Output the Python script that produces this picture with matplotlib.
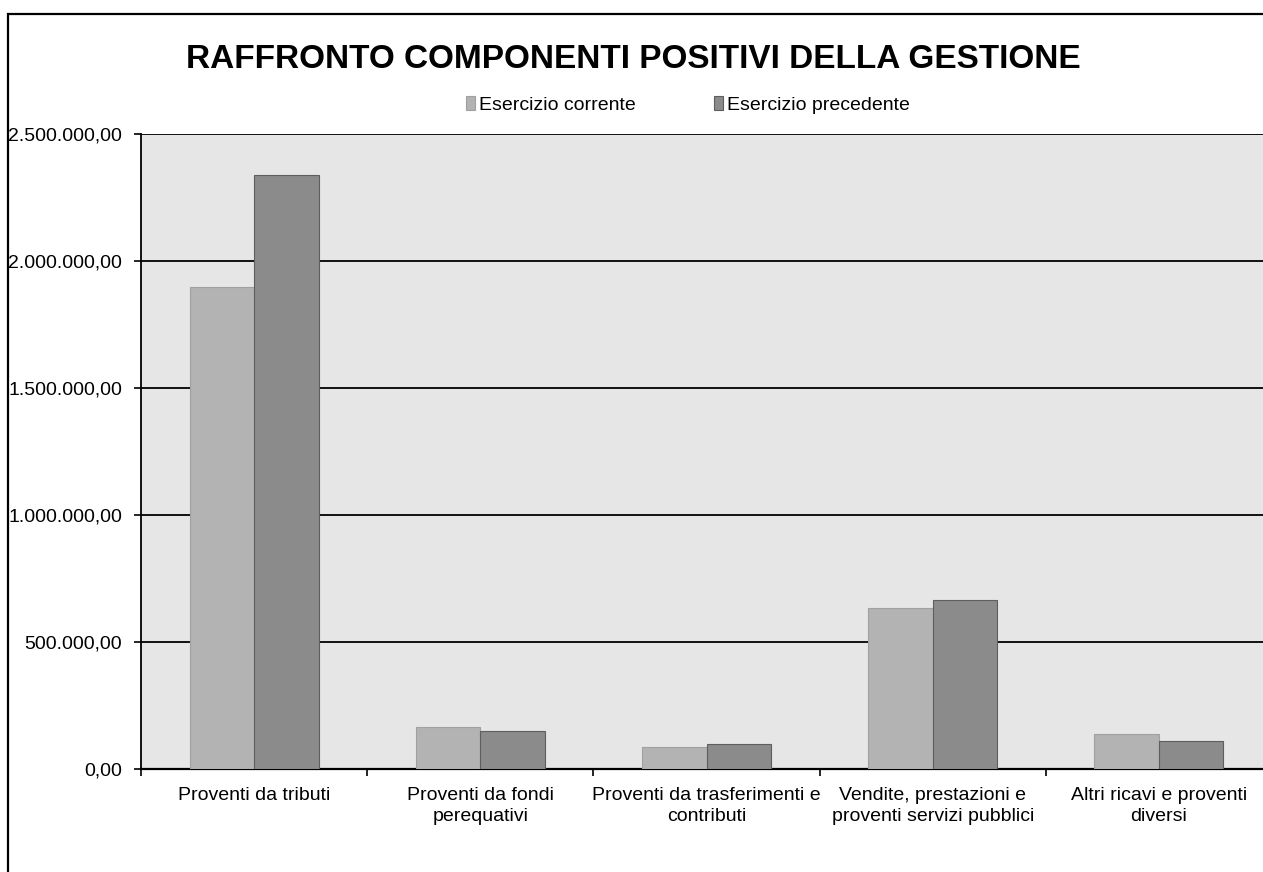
import numpy as np
import matplotlib.pyplot as plt
from matplotlib.patches import Rectangle

categorie = ['Proventi da tributi', 'Proventi da fondi\nperequativi',
             'Proventi da trasferimenti e\ncontributi',
             'Vendite, prestazioni e\nproventi servizi pubblici',
             'Altri ricavi e proventi\ndiversi']
corrente = [1897000, 165000, 88000, 634000, 138000]
precedente = [2339000, 150000, 99000, 665000, 110000]
serie = ['Esercizio corrente', 'Esercizio precedente']
yticks = [0, 500000, 1000000, 1500000, 2000000, 2500000]


def fmt_it(v):
    s = f'{v:,.2f}'
    return s.replace(',', 'X').replace('.', ',').replace('X', '.')


plt.rcParams['font.family'] = ['Liberation Sans', 'DejaVu Sans']

fig = plt.figure(figsize=(12.63, 8.72), dpi=100)
fig.patch.set_facecolor('white')

# cornice esterna del grafico
fig.patches.append(Rectangle((8 / 1263, -0.05), 1.1, 1 - 14 / 872 + 0.05,
                             transform=fig.transFigure, fill=False,
                             edgecolor='black', linewidth=1.6))

ax = fig.add_axes([141 / 1263, 1 - 769 / 872, 1131 / 1263, 635 / 872])
ax.set_facecolor('#e6e6e6')

x = np.arange(len(categorie))
w = 0.285
ax.bar(x - w / 2, corrente, w, color='#b3b3b3', edgecolor='#a0a0a0',
       linewidth=0.8, zorder=3, label=serie[0])
ax.bar(x + w / 2, precedente, w, color='#8b8b8b', edgecolor='#5e5e5e',
       linewidth=0.8, zorder=3, label=serie[1])

ax.set_xlim(-0.5, len(categorie) - 0.5)
ax.set_ylim(0, 2500000)
ax.set_yticks(yticks)
ax.set_yticklabels([fmt_it(v) for v in yticks], fontsize=14)
ax.yaxis.grid(True, color='black', linewidth=1.3, zorder=1)
ax.tick_params(axis='y', direction='out', length=5, width=1.2, pad=8.5)

ax.set_xticks(np.arange(-0.5, len(categorie)), minor=False)
ax.set_xticklabels([])
ax.set_xticks(x, minor=True)
ax.set_xticklabels(categorie, minor=True, fontsize=14, linespacing=1.3)
ax.tick_params(axis='x', which='major', direction='out', length=5, width=1.2)
ax.tick_params(axis='x', which='minor', length=0, pad=13)

for s in ['top', 'right']:
    ax.spines[s].set_visible(False)
ax.spines['left'].set_linewidth(1.3)
ax.spines['bottom'].set_linewidth(1.6)

fig.text(633 / 1263, 1 - 60 / 872, 'RAFFRONTO COMPONENTI POSITIVI DELLA GESTIONE',
         ha='center', va='center', fontsize=24, fontweight='bold')

fig.legend(loc='center', bbox_to_anchor=(688 / 1263, 1 - 105 / 872), ncol=2,
           frameon=False, fontsize=14, handlelength=0.45, handleheight=0.75,
           handletextpad=0.2, columnspacing=4.05)

fig.savefig('out.png', dpi=100)
